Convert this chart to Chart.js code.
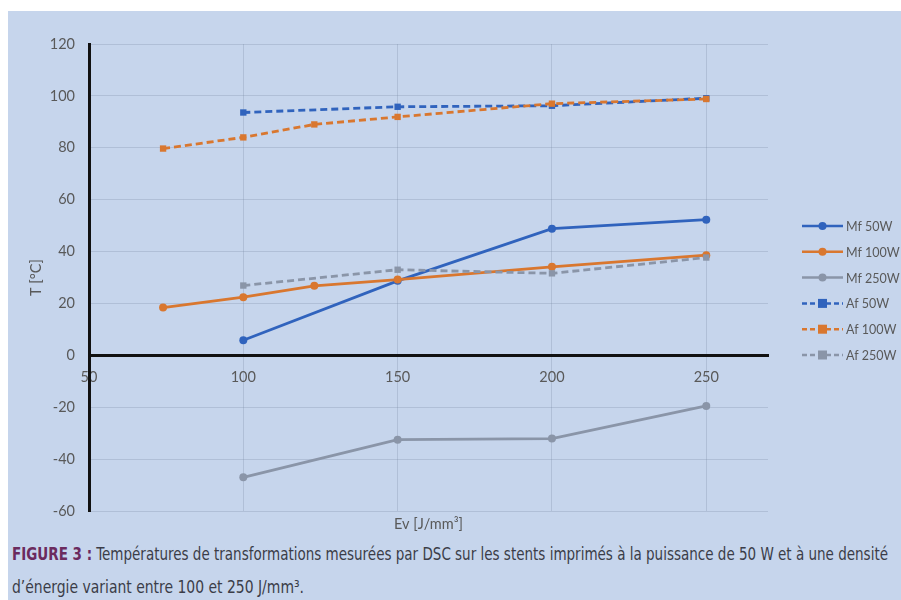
<!DOCTYPE html>
<html>
<head>
<meta charset="utf-8">
<script src="https://cdn.jsdelivr.net/npm/chart.js@4.4.1/dist/chart.umd.min.js"></script>
<style>
  html, body { margin: 0; padding: 0; background: #fff; }
  #frame { position: absolute; left: 8px; top: 11px; width: 893px; height: 589px; background: #c6d5ec; overflow: hidden; }
  #wrap { position: absolute; left: 0; top: 0; width: 893px; height: 525px; }
  #caption { position: absolute; left: 4px; top: 527px; font-family: "Liberation Sans Narrow", "DejaVu Sans Condensed", sans-serif; font-stretch: condensed;
    font-size: 17.5px; line-height: 33px; color: #3b3d48; white-space: nowrap; }
  #caption .ln { display: inline-block; transform-origin: left center; }
  #caption b { color: #6b2b5e; }
</style>
</head>
<body>
<div id="frame">
  <div id="wrap"><canvas id="chart"></canvas></div>
  <div id="caption">
    <span class="ln" id="l1"><b>FIGURE 3 :</b> Températures de transformations mesurées par DSC sur les stents imprimés à la puissance de 50 W et à une densité</span><br>
    <span class="ln" id="l2">d’énergie variant entre 100 et 250 J/mm³.</span>
  </div>
</div>
<script>
// data
const xTicks = [50, 100, 150, 200, 250];

const evMf50 = [100, 150, 200, 250];
const mf50 = [5.8, 28.7, 48.8, 52.3];

const evMf100 = [74, 100, 123, 150, 200, 250];
const mf100 = [18.4, 22.4, 26.8, 29.2, 34.1, 38.6];

const evMf250 = [100, 150, 200, 250];
const mf250 = [-47, -32.5, -32.1, -19.5];

const evAf50 = [100, 150, 200, 250];
const af50 = [93.6, 95.8, 96.2, 99.1];

const evAf100 = [74, 100, 123, 150, 200, 250];
const af100 = [79.7, 84, 89, 91.9, 97, 98.8];

const evAf250 = [100, 150, 200, 250];
const af250 = [26.9, 33, 31.6, 37.7];

const blue = '#3063bd';
const orange = '#d9772f';
const grey = '#8a95a8';
const tickColor = '#595959';
const gridColor = 'rgba(120, 135, 160, 0.28)';

function pts(xs, ys) {
  return xs.map((x, i) => ({ x: x, y: ys[i] }));
}

function series(label, xs, ys, color, dashed, order) {
  return {
    label: label,
    data: pts(xs, ys),
    borderColor: color,
    backgroundColor: color,
    borderWidth: 2.8,
    borderDash: dashed ? [7, 4] : [],
    pointStyle: dashed ? 'rect' : 'circle',
    pointRadius: dashed ? 4.5 : 4,
    pointBorderWidth: 0,
    showLine: true,
    order: order
  };
}

// legend drawn as line + marker like the original
const lineLegend = {
  id: 'lineLegend',
  afterDraw(chart) {
    const ctx = chart.ctx;
    ctx.save();
    chart.data.datasets.forEach((ds, i) => {
      const y = 215 + i * 25.8;
      ctx.strokeStyle = ds.borderColor;
      ctx.lineWidth = 2.5;
      ctx.setLineDash(ds.borderDash.length ? [5, 3] : []);
      ctx.beginPath();
      ctx.moveTo(794, y);
      ctx.lineTo(835, y);
      ctx.stroke();
      ctx.setLineDash([]);
      ctx.fillStyle = ds.backgroundColor;
      if (ds.pointStyle === 'rect') {
        ctx.fillRect(810, y - 4.5, 9, 9);
      } else {
        ctx.beginPath();
        ctx.arc(814.5, y, 4, 0, Math.PI * 2);
        ctx.fill();
      }
      ctx.fillStyle = tickColor;
      ctx.font = '12.5px Lato';
      ctx.textBaseline = 'middle';
      ctx.fillText(ds.label, 838, y + 1);
    });
    ctx.restore();
  }
};

new Chart(document.getElementById('chart'), {
  type: 'scatter',
  data: {
    datasets: [
      series('Mf 50W', evMf50, mf50, blue, false, 6),
      series('Mf 100W', evMf100, mf100, orange, false, 5),
      series('Mf 250W', evMf250, mf250, grey, false, 4),
      series('Af 50W', evAf50, af50, blue, true, 3),
      series('Af 100W', evAf100, af100, orange, true, 2),
      series('Af 250W', evAf250, af250, grey, true, 1)
    ]
  },
  options: {
    responsive: true,
    maintainAspectRatio: false,
    animation: false,
    layout: { padding: { top: 33, right: 133, left: 0, bottom: 0 } },
    plugins: { legend: { display: false }, tooltip: { enabled: false } },
    scales: {
      x: {
        type: 'linear',
        min: 50,
        max: 270,
        afterBuildTicks: (scale) => { scale.ticks = xTicks.map(v => ({ value: v })); },
        afterFit: (scale) => { scale.height = 25; },
        ticks: { display: false },
        grid: { color: gridColor, lineWidth: 1, drawTicks: false },
        border: { display: false },
        title: { display: true, text: 'Ev [J/mm³]', color: tickColor, font: { family: 'Lato', size: 14.5 }, padding: { top: 0, bottom: 3 } }
      },
      x2: {
        type: 'linear',
        axis: 'x',
        position: { y: 0 },
        min: 50,
        max: 270,
        afterBuildTicks: (scale) => { scale.ticks = xTicks.map(v => ({ value: v })); },
        ticks: { color: tickColor, font: { family: 'Lato', size: 14.5 }, padding: 13 },
        grid: { display: false, drawTicks: false },
        border: { display: true, color: '#111', width: 3 }
      },
      y: {
        min: -60,
        max: 120,
        ticks: { stepSize: 20, color: tickColor, font: { family: 'Lato', size: 14.5 }, padding: 14 },
        afterFit: (scale) => { scale.width = 81; },
        grid: { color: gridColor, lineWidth: 1, drawTicks: false },
        border: { display: true, color: '#111', width: 3 },
        title: { display: true, text: 'T [°C]', color: tickColor, font: { family: 'Lato', size: 14.5 }, padding: { top: 20, bottom: 0 } }
      }
    }
  },
  plugins: [lineLegend]
});

// squeeze caption lines to the widths they have in the figure
function fitLine(id, target) {
  const el = document.getElementById(id);
  const w = el.getBoundingClientRect().width;
  el.style.transform = 'scaleX(' + (target / w) + ')';
}
fitLine('l1', 876);
fitLine('l2', 292);
</script>
</body>
</html>
